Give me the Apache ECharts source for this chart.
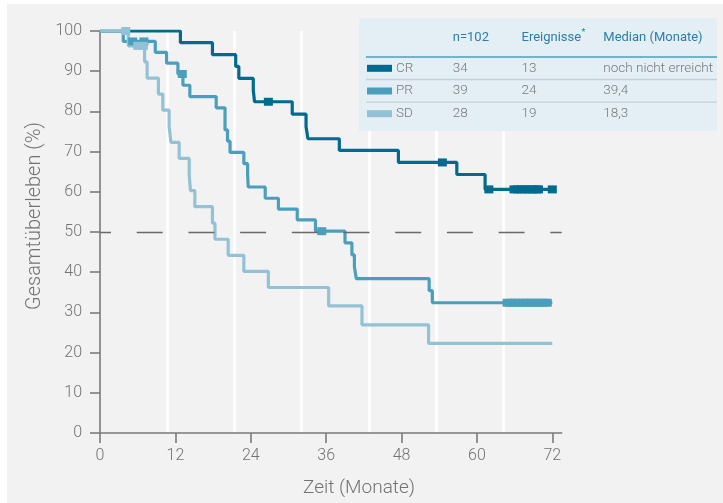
<!DOCTYPE html>
<html><head><meta charset="utf-8">
<script src="https://cdn.jsdelivr.net/npm/echarts@6/dist/echarts.min.js"></script>
<style>html,body{margin:0;padding:0;background:#fff}#c{width:723px;height:503px}</style>
</head><body><div id="c"></div>
<script>
// ---- data ----
const xTicks = [0, 12, 24, 36, 48, 60, 72];
const xMax = 73.5;
const medianLevel = 50;
// Kaplan-Meier step curves [month, % survival]
const crCurve = [[0,100],[12.8,97.1],[17.9,94.1],[21.6,91.2],[22.1,88.2],[24.4,85.3],[24.6,82.4],[30.6,79.3],[32.8,76.2],[33.1,73.2],[38.1,70.3],[47.5,67.3],[56.8,64.3],[61.3,60.6],[72,60.6]];
const crCensored = [[26.8,82.4],[54.5,67.3],[61.9,60.6],[65.9,60.6],[66.5,60.6],[67.1,60.6],[67.7,60.6],[68.3,60.6],[68.9,60.6],[69.5,60.6],[69.8,60.6],[72,60.6]];
const prCurve = [[0,100],[3.7,97.4],[8.8,94.7],[10.6,92.0],[12.4,89.3],[13.2,86.5],[14.3,83.7],[18.5,80.9],[19.9,75.4],[20.3,72.6],[20.7,69.8],[22.9,67.0],[23.5,64.2],[23.6,61.2],[26.3,58.4],[28.4,55.7],[31.4,53.0],[34.3,50.2],[39.0,47.3],[40.1,44.3],[40.5,41.3],[40.8,38.4],[52.4,35.4],[52.9,32.4],[72,32.4]];
const prCensored = [[5.2,97.4],[7.0,97.4],[13.1,89.3],[35.3,50.2],[64.8,32.4],[65.4,32.4],[66.1,32.4],[66.7,32.4],[67.4,32.4],[68.0,32.4],[68.6,32.4],[69.3,32.4],[69.9,32.4],[70.6,32.4],[71.2,32.4]];
const sdCurve = [[0,100],[4.5,96.3],[7.1,92.3],[7.5,88.3],[9.3,84.3],[10.0,80.3],[11.0,76.3],[11.3,72.3],[12.6,68.3],[14.2,64.3],[14.4,60.3],[15.1,56.3],[17.9,52.2],[18.3,48.2],[20.4,44.2],[22.9,40.2],[26.8,36.2],[36.4,31.6],[41.7,26.9],[52.3,22.3],[72,22.3]];
const sdCensored = [[4.1,100],[6.0,96.3],[6.9,96.3]];
// legend table
const groups = ['CR', 'PR', 'SD'];
const headerCols = ['n=102', 'Ereignisse', 'Median (Monate)'];
const nPatients = [34, 39, 28];
const nEvents = [13, 24, 19];
const medians = ['noch nicht erreicht', '39,4', '18,3'];

const colors = ['#006b8f', '#4b9fbd', '#93c2d6'];
const FONT = 'Roboto, "Liberation Sans", sans-serif';
const grey = '#737373';
const axisCol = '#7a7a7a';

const chart = echarts.init(document.getElementById('c'), null, {renderer: 'canvas'});

// table graphics
const tb = {x: 359, y: 18, w: 358, h: 113};
const rowY = [68.3, 91, 113.7];
const colX = [452.7, 521.5, 603.3];
const gfx = [
  {type: 'rect', z: 100, shape: {x: 0, y: 0, width: 723, height: 4}, style: {fill: '#fff'}},
  {type: 'rect', z: 100, shape: {x: 0, y: 0, width: 7, height: 503}, style: {fill: '#fff'}},
  {type: 'rect', z: 100, shape: {x: tb.x, y: tb.y, width: tb.w, height: tb.h}, style: {fill: '#e3eef5'}},
  {type: 'line', z: 101, shape: {x1: 366, y1: 57, x2: 717, y2: 57}, style: {stroke: '#4b9fbd', lineWidth: 1.5}},
  {type: 'line', z: 101, shape: {x1: 366, y1: 79.5, x2: 717, y2: 79.5}, style: {stroke: '#c8cfd4', lineWidth: 1.3}},
  {type: 'line', z: 101, shape: {x1: 366, y1: 102.2, x2: 717, y2: 102.2}, style: {stroke: '#c8cfd4', lineWidth: 1.3}},
  {type: 'text', z: 101, x: 35, y: 216, rotation: Math.PI / 2,
    style: {text: 'Gesamtüberleben (%)', fill: grey, font: '300 20px ' + FONT, textAlign: 'center', textVerticalAlign: 'middle'}},
  {type: 'text', z: 101, x: 359, y: 488,
    style: {text: 'Zeit (Monate)', fill: grey, font: '300 19px ' + FONT, textAlign: 'center', textVerticalAlign: 'middle'}}
];
headerCols.forEach((h, i) => {
  gfx.push({type: 'text', z: 101, x: colX[i], y: 38,
    style: {text: h, fill: '#2b7fa8', font: '13px ' + FONT, textAlign: 'left', textVerticalAlign: 'middle'}});
});
// asterisk superscript after "Ereignisse"
gfx.push({type: 'text', z: 101, x: colX[1] + 60, y: 33,
  style: {text: '*', fill: '#2b7fa8', font: '9px ' + FONT, textAlign: 'left', textVerticalAlign: 'middle'}});
groups.forEach((g, i) => {
  const y = rowY[i];
  gfx.push({type: 'rect', z: 101, shape: {x: 367, y: y - 3.5, width: 25, height: 7}, style: {fill: colors[i]}});
  const cells = [[396, g], [colX[0], String(nPatients[i])], [colX[1], String(nEvents[i])], [colX[2], medians[i]]];
  cells.forEach(([x, t]) => {
    gfx.push({type: 'text', z: 101, x: x, y: y,
      style: {text: t, fill: '#7a7a7a', font: '300 13.5px ' + FONT, textAlign: 'left', textVerticalAlign: 'middle'}});
  });
});

function lineSeries(name, data, color) {
  return {type: 'line', name, data, step: 'end', showSymbol: false, symbol: 'none',
    lineStyle: {color, width: 3.2}, itemStyle: {color}, z: 3, animation: false, silent: true};
}
function censorSeries(name, data, color) {
  return {type: 'scatter', name, data, symbol: 'rect', symbolSize: [9, 8],
    itemStyle: {color, opacity: 1}, z: 3, animation: false, silent: true};
}

chart.setOption({
  backgroundColor: '#f2f2f2',
  animation: false,
  grid: {left: 100, top: 31, right: 723 - 100 - xMax * 6.282, bottom: 70, containLabel: false},
  xAxis: [
    {type: 'value', min: 0, max: xMax,
      axisLine: {show: true, lineStyle: {color: axisCol, width: 1.6}},
      axisTick: {show: true, customValues: xTicks, length: 10, lineStyle: {color: axisCol, width: 1.6}},
      axisLabel: {customValues: xTicks, margin: 15, fontSize: 16, fontWeight: 300, color: grey, fontFamily: FONT},
      splitLine: {show: false}},
    {type: 'value', min: 0, max: xMax / 10.7, interval: 1, position: 'bottom',
      axisLine: {show: false}, axisTick: {show: false}, axisLabel: {show: false},
      splitLine: {show: true, showMinLine: false, showMaxLine: false, lineStyle: {color: '#ffffff', width: 2.6}}}
  ],
  yAxis: {type: 'value', min: 0, max: 100, interval: 10,
    axisLine: {show: true, lineStyle: {color: axisCol, width: 1.6}},
    axisTick: {show: true, length: 10, lineStyle: {color: axisCol, width: 1.6}},
    axisLabel: {margin: 18, fontSize: 16, fontWeight: 300, color: grey, fontFamily: FONT},
    splitLine: {show: false}},
  graphic: gfx,
  series: [
    {type: 'line', name: 'ref', data: [], z: 2, silent: true,
      markLine: {silent: true, symbol: 'none', label: {show: false},
        lineStyle: {type: [26, 25.7], dashOffset: 15, color: '#6a6a6a', width: 1.3},
        data: [[{coord: [0, medianLevel]}, {coord: [xMax, medianLevel]}]]}},
    lineSeries('CR', crCurve, colors[0]),
    censorSeries('CR zensiert', crCensored, colors[0]),
    lineSeries('PR', prCurve, colors[1]),
    censorSeries('PR zensiert', prCensored, colors[1]),
    lineSeries('SD', sdCurve, colors[2]),
    censorSeries('SD zensiert', sdCensored, colors[2])
  ]
});
</script></body></html>
